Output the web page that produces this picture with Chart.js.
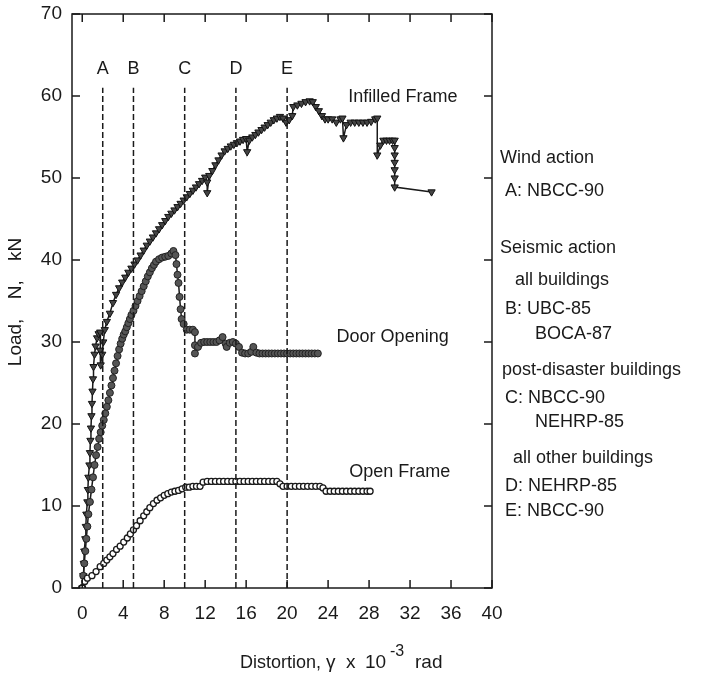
<!DOCTYPE html>
<html>
<head>
<meta charset="utf-8">
<script src="https://cdn.jsdelivr.net/npm/chart.js@4.4.0/dist/chart.umd.min.js"></script>
<style>
  html, body { margin: 0; padding: 0; background: #fff; }
  #wrap { width: 711px; height: 676px; }
</style>
</head>
<body>
<div id="wrap"><canvas id="myChart" width="711" height="676"></canvas></div>
<script>
// tick values
const xTicks = [0, 4, 8, 12, 16, 20, 24, 28, 32, 36, 40];
const yTicks = [0, 10, 20, 30, 40, 50, 60, 70];

// Infilled frame (triangles)
const infilledX = [0, 0.1, 0.15, 0.2, 0.3, 0.35, 0.4, 0.5, 0.55, 0.6, 0.7, 0.75, 0.8, 0.85, 0.9, 0.95, 1.0, 1.05, 1.1, 1.2, 1.3, 1.45, 1.6, 1.75, 1.75, 1.8, 1.95, 2.05, 2.2, 2.4, 2.7, 3.0, 3.3, 3.6, 3.9, 4.2, 4.5, 4.8, 5.1, 5.4, 5.7, 6.0, 6.3, 6.6, 6.9, 7.2, 7.5, 7.8, 8.1, 8.4, 8.7, 9.0, 9.3, 9.6, 9.9, 10.2, 10.5, 10.8, 11.1, 11.4, 11.7, 12.0, 12.2, 12.2, 12.4, 12.7, 13.0, 13.3, 13.6, 13.9, 14.2, 14.5, 14.8, 15.1, 15.4, 15.7, 16.0, 16.1, 16.3, 16.6, 16.9, 17.2, 17.5, 17.8, 18.1, 18.4, 18.7, 19.0, 19.3, 19.6, 19.9, 20.2, 20.5, 20.6, 21.0, 21.4, 21.8, 22.2, 22.5, 22.8, 23.1, 23.4, 23.7, 24.0, 24.4, 24.8, 25.2, 25.4, 25.5, 25.8, 26.2, 26.6, 27.0, 27.4, 27.8, 28.2, 28.6, 28.8, 28.8, 29.1, 29.4, 29.7, 30.0, 30.3, 30.5, 30.5, 30.5, 30.5, 30.5, 30.5, 30.5, 34.1];
const infilledY = [0, 1.5, 3, 4.5, 6, 7.5, 9, 10.5, 12, 13.5, 15, 16.5, 18, 19.5, 21, 22.5, 24, 25.5, 27, 28.5, 29.5, 30.5, 31, 31.2, 29, 27.2, 28.5, 30, 31.5, 32.5, 33.5, 34.8, 35.8, 36.6, 37.3, 37.9, 38.5, 39, 39.5, 40, 40.6, 41.2, 41.8, 42.3, 42.8, 43.3, 43.8, 44.3, 44.8, 45.3, 45.7, 46.1, 46.5, 46.9, 47.3, 47.7, 48.1, 48.5, 48.9, 49.3, 49.7, 50.1, 49.5, 48.2, 50.3, 50.9, 51.6, 52.2, 52.8, 53.3, 53.6, 53.9, 54.1, 54.3, 54.5, 54.7, 54.8, 53.2, 54.6, 55.0, 55.3, 55.6, 55.9, 56.2, 56.5, 56.8, 57.1, 57.3, 57.5, 57.3, 56.8, 57.1, 57.6, 58.7, 58.9, 59.1, 59.3, 59.4, 59.3, 58.7, 58.2, 57.6, 57.2, 57.2, 57.2, 56.8, 57.2, 57.3, 54.9, 56.5, 56.8, 56.8, 56.8, 56.8, 56.8, 56.9, 57.2, 57.3, 52.8, 54.0, 54.6, 54.6, 54.6, 54.6, 54.6, 53.7, 52.8, 51.9, 51.0, 50.0, 48.9, 48.3];

// Door opening (filled circles)
const doorX = [0, 0.1, 0.2, 0.3, 0.4, 0.5, 0.6, 0.75, 0.9, 1.05, 1.2, 1.35, 1.5, 1.65, 1.8, 1.95, 2.1, 2.25, 2.4, 2.55, 2.7, 2.85, 3.0, 3.15, 3.3, 3.45, 3.6, 3.75, 3.9, 4.05, 4.2, 4.35, 4.5, 4.65, 4.8, 5.0, 5.2, 5.4, 5.6, 5.8, 6.0, 6.2, 6.4, 6.6, 6.8, 7.0, 7.2, 7.5, 7.8, 8.1, 8.4, 8.7, 8.9, 9.1, 9.2, 9.3, 9.4, 9.5, 9.6, 9.7, 9.9, 10.2, 10.5, 10.8, 11.0, 11.0, 11.0, 11.3, 11.6, 11.9, 12.2, 12.5, 12.8, 13.1, 13.4, 13.7, 14.0, 14.1, 14.4, 14.7, 15.0, 15.3, 15.6, 15.9, 16.2, 16.5, 16.7, 17.0, 17.3, 17.6, 17.9, 18.2, 18.5, 18.8, 19.1, 19.4, 19.7, 20.0, 20.3, 20.6, 20.9, 21.2, 21.5, 21.8, 22.1, 22.4, 22.7, 23.0];
const doorY = [0, 1.5, 3, 4.5, 6, 7.5, 9, 10.5, 12, 13.5, 15, 16.2, 17.2, 18.2, 19, 19.8, 20.5, 21.3, 22.1, 22.9, 23.8, 24.7, 25.6, 26.5, 27.4, 28.3, 29.1, 29.8, 30.4, 30.9, 31.3, 31.8, 32.3, 32.8, 33.3, 33.8, 34.4, 35, 35.6, 36.2, 36.8, 37.4, 38, 38.5, 39, 39.4, 39.8, 40.1, 40.3, 40.4, 40.5, 40.8, 41.1, 40.6, 39.5, 38.2, 37.2, 35.5, 34, 32.8, 32.2, 31.5, 31.5, 31.5, 31.2, 29.6, 28.6, 29.4, 29.9, 30, 30, 30, 30, 30, 30.2, 30.6, 29.8, 29.4, 29.9, 30, 29.8, 29.4, 28.7, 28.6, 28.6, 28.8, 29.4, 28.7, 28.6, 28.6, 28.6, 28.6, 28.6, 28.6, 28.6, 28.6, 28.6, 28.6, 28.6, 28.6, 28.6, 28.6, 28.6, 28.6, 28.6, 28.6, 28.6, 28.6];

// Open frame (open circles)
const openX = [0, 0.25, 0.5, 0.95, 1.35, 1.75, 2.1, 2.4, 2.7, 3.0, 3.35, 3.7, 4.05, 4.4, 4.7, 5.0, 5.3, 5.65, 6.0, 6.3, 6.6, 6.95, 7.3, 7.65, 8.0, 8.35, 8.7, 9.05, 9.4, 9.75, 10.1, 10.45, 10.8, 11.15, 11.5, 11.8, 12.2, 12.6, 13.0, 13.4, 13.8, 14.2, 14.6, 15.0, 15.4, 15.8, 16.2, 16.6, 17.0, 17.4, 17.8, 18.2, 18.6, 19.0, 19.3, 19.6, 20.0, 20.4, 20.8, 21.2, 21.6, 22.0, 22.4, 22.8, 23.2, 23.5, 23.8, 24.2, 24.6, 25.0, 25.4, 25.8, 26.2, 26.6, 27.0, 27.4, 27.8, 28.1];
const openY = [0, 0.8, 1.2, 1.5, 2.0, 2.6, 3.0, 3.4, 3.8, 4.2, 4.7, 5.1, 5.6, 6.1, 6.6, 7.1, 7.6, 8.2, 8.8, 9.3, 9.8, 10.3, 10.7, 11.0, 11.3, 11.5, 11.7, 11.8, 11.9, 12.1, 12.3, 12.3, 12.4, 12.4, 12.4, 12.9, 13, 13, 13, 13, 13, 13, 13, 13, 13, 13, 13, 13, 13, 13, 13, 13, 13, 13, 12.7, 12.4, 12.4, 12.4, 12.4, 12.4, 12.4, 12.4, 12.4, 12.4, 12.4, 12.2, 11.8, 11.8, 11.8, 11.8, 11.8, 11.8, 11.8, 11.8, 11.8, 11.8, 11.8, 11.8];

// code limit lines
const limitNames = ["A", "B", "C", "D", "E"];
const limitX = [2, 5, 10, 15, 20];
const limitTop = 61;

const curveLabels = ["Infilled Frame", "Door Opening", "Open Frame"];
const curveLabelX = [31.3, 30.3, 31.0];
const curveLabelY = [59.9, 30.6, 14.1];

const notes = [
  ["Wind action", 500, 158],
  ["A: NBCC-90", 505, 191],
  ["Seismic action", 500, 248],
  ["all buildings", 515, 280],
  ["B: UBC-85", 505, 309],
  ["BOCA-87", 535, 334],
  ["post-disaster buildings", 502, 370],
  ["C: NBCC-90", 505, 398],
  ["NEHRP-85", 535, 422],
  ["all other buildings", 513, 458],
  ["D: NEHRP-85", 505, 486],
  ["E: NBCC-90", 505, 511],
];

const FONT = "'Liberation Sans', Arial, sans-serif";
const ink = "#1a1a1a";

function toPoints(xs, ys) {
  return xs.map((x, i) => ({ x: x, y: ys[i] }));
}

const limitSets = limitX.map((x) => ({
  data: [{ x: x, y: 0 }, { x: x, y: limitTop }],
  showLine: true,
  borderColor: ink,
  borderWidth: 1.5,
  borderDash: [6, 3],
  pointRadius: 0,
}));

const decor = {
  id: "decor",
  afterDraw(chart) {
    const ctx = chart.ctx;
    const a = chart.chartArea;
    const xs = chart.scales.x;
    const ys = chart.scales.y;
    ctx.save();
    ctx.strokeStyle = ink;
    ctx.lineWidth = 1.5;
    ctx.strokeRect(a.left, a.top, a.right - a.left, a.bottom - a.top);
    // inward ticks on all four sides
    const tl = 8;
    ctx.beginPath();
    xTicks.forEach((v) => {
      const px = xs.getPixelForValue(v);
      ctx.moveTo(px, a.bottom); ctx.lineTo(px, a.bottom - tl);
      ctx.moveTo(px, a.top); ctx.lineTo(px, a.top + tl);
    });
    yTicks.forEach((v) => {
      const py = ys.getPixelForValue(v);
      ctx.moveTo(a.left, py); ctx.lineTo(a.left + tl, py);
      ctx.moveTo(a.right, py); ctx.lineTo(a.right - tl, py);
    });
    ctx.stroke();

    ctx.fillStyle = ink;
    ctx.font = "18px " + FONT;
    ctx.textAlign = "center";
    ctx.textBaseline = "middle";
    limitNames.forEach((n, i) => {
      ctx.fillText(n, xs.getPixelForValue(limitX[i]), ys.getPixelForValue(63.3));
    });
    curveLabels.forEach((t, i) => {
      ctx.fillText(t, xs.getPixelForValue(curveLabelX[i]), ys.getPixelForValue(curveLabelY[i]));
    });

    ctx.textAlign = "left";
    notes.forEach((n) => ctx.fillText(n[0], n[1], n[2]));

    // y axis title
    ctx.save();
    ctx.translate(16, 302);
    ctx.rotate(-Math.PI / 2);
    ctx.textAlign = "center";
    ctx.font = "19px " + FONT;
    ctx.wordSpacing = "14px";
    ctx.fillText("Load, N, kN", 0, 0);
    ctx.restore();

    // x axis title with superscript
    ctx.textBaseline = "alphabetic";
    ctx.font = "18px " + FONT;
    ctx.fillText("Distortion,", 240, 668);
    ctx.font = "19px " + FONT;
    ctx.fillText("γ", 326, 668);
    ctx.fillText("x", 346, 668);
    ctx.fillText("10", 365, 668);
    ctx.font = "16px " + FONT;
    ctx.fillText("-3", 390, 656);
    ctx.font = "19px " + FONT;
    ctx.fillText("rad", 415, 668);
    ctx.restore();
  },
};

new Chart(document.getElementById("myChart"), {
  type: "scatter",
  data: {
    datasets: [
      ...limitSets,
      {
        label: "Open Frame",
        data: toPoints(openX, openY),
        showLine: true,
        borderColor: ink,
        borderWidth: 1.2,
        pointStyle: "circle",
        pointRadius: 3,
        pointBorderWidth: 1.3,
        pointBackgroundColor: "#fff",
        pointBorderColor: ink,
      },
      {
        label: "Door Opening",
        data: toPoints(doorX, doorY),
        showLine: true,
        borderColor: ink,
        borderWidth: 1.5,
        pointStyle: "circle",
        pointRadius: 3.5,
        pointBorderWidth: 1,
        pointBackgroundColor: "#555",
        pointBorderColor: "#222",
      },
      {
        label: "Infilled Frame",
        data: toPoints(infilledX, infilledY),
        showLine: true,
        borderColor: ink,
        borderWidth: 1.5,
        pointStyle: "triangle",
        rotation: 180,
        pointRadius: 4.2,
        pointBorderWidth: 1,
        pointBackgroundColor: "#444",
        pointBorderColor: "#111",
      },
    ],
  },
  options: {
    responsive: false,
    animation: false,
    layout: { padding: { top: 14, right: 219, left: 0, bottom: 0 } },
    plugins: {
      legend: { display: false },
      tooltip: { enabled: false },
    },
    scales: {
      x: {
        type: "linear",
        min: -1,
        max: 40,
        afterBuildTicks: (s) => { s.ticks = xTicks.map((v) => ({ value: v })); },
        afterFit: (s) => { s.height = 88; s.paddingLeft = 0; s.paddingRight = 0; },
        grid: { display: false, drawTicks: false },
        border: { display: false },
        ticks: { color: ink, padding: 14, font: { family: FONT, size: 19 } },
      },
      y: {
        type: "linear",
        min: 0,
        max: 70,
        afterBuildTicks: (s) => { s.ticks = yTicks.map((v) => ({ value: v })); },
        afterFit: (s) => { s.width = 72; s.paddingTop = 0; s.paddingBottom = 0; },
        grid: { display: false, drawTicks: false },
        border: { display: false },
        ticks: { color: ink, padding: 10, font: { family: FONT, size: 19 } },
      },
    },
  },
  plugins: [decor],
});
</script>
</body>
</html>
